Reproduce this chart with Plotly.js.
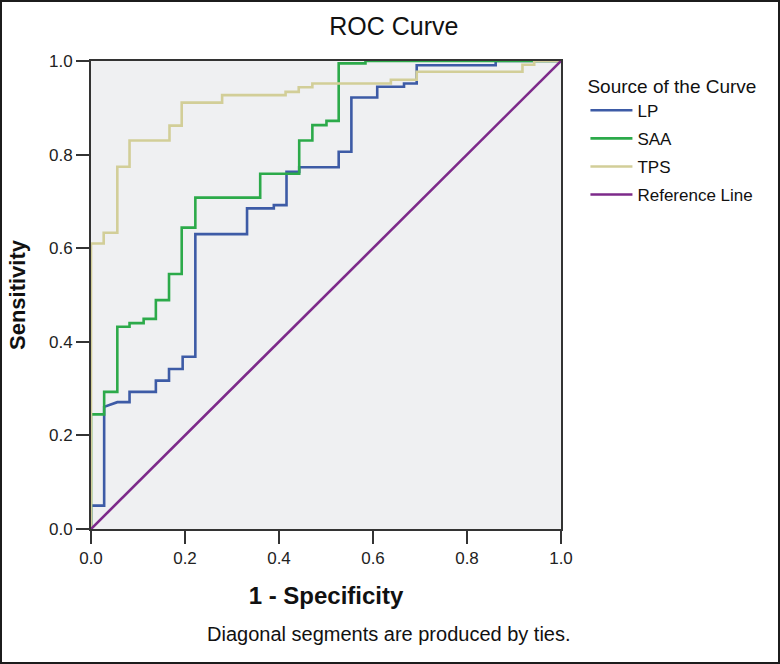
<!DOCTYPE html>
<html>
<head>
<meta charset="utf-8">
<script src="https://cdn.plot.ly/plotly-3.0.1.min.js"></script>
<style>
  html, body { margin: 0; padding: 0; background: #fff; }
  #wrap { position: relative; width: 780px; height: 664px; }
  #chart { position: absolute; left: 0; top: 0; width: 780px; height: 664px; }
  #frame { position: absolute; left: 0; top: 0; width: 780px; height: 664px;
           box-sizing: border-box; border: 2px solid #1c1c1c; pointer-events: none; }
</style>
</head>
<body>
<div id="wrap"><div id="chart"></div><div id="frame"></div></div>
<script>
// ROC coordinates (1 - specificity, sensitivity)
const lpX  = [0, 0, 0.028, 0.028, 0.056, 0.082, 0.082, 0.138, 0.138, 0.166, 0.166, 0.195, 0.195, 0.222, 0.222, 0.332, 0.332, 0.389, 0.389, 0.416, 0.416, 0.443, 0.443, 0.527, 0.527, 0.554, 0.554, 0.609, 0.609, 0.666, 0.666, 0.693, 0.693, 0.861, 0.861, 1];
const lpY  = [0, 0.05, 0.05, 0.261, 0.271, 0.271, 0.293, 0.293, 0.317, 0.317, 0.342, 0.342, 0.368, 0.368, 0.630, 0.630, 0.685, 0.685, 0.692, 0.692, 0.763, 0.763, 0.773, 0.773, 0.806, 0.806, 0.922, 0.922, 0.945, 0.945, 0.952, 0.952, 0.991, 0.991, 1, 1];

const saaX = [0, 0, 0.028, 0.028, 0.056, 0.056, 0.082, 0.082, 0.112, 0.112, 0.138, 0.138, 0.166, 0.166, 0.193, 0.193, 0.222, 0.222, 0.360, 0.360, 0.443, 0.443, 0.471, 0.471, 0.501, 0.501, 0.527, 0.527, 0.584, 0.584, 1];
const saaY = [0, 0.245, 0.245, 0.293, 0.293, 0.432, 0.432, 0.440, 0.440, 0.449, 0.449, 0.489, 0.489, 0.545, 0.545, 0.644, 0.644, 0.708, 0.708, 0.759, 0.759, 0.830, 0.830, 0.863, 0.863, 0.872, 0.872, 0.995, 0.995, 1, 1];

const tpsX = [0, 0, 0.027, 0.027, 0.056, 0.056, 0.082, 0.082, 0.167, 0.167, 0.193, 0.193, 0.279, 0.279, 0.414, 0.414, 0.442, 0.442, 0.471, 0.471, 0.638, 0.638, 0.693, 0.693, 0.918, 0.918, 0.943, 0.943, 1];
const tpsY = [0, 0.61, 0.61, 0.633, 0.633, 0.774, 0.774, 0.830, 0.830, 0.862, 0.862, 0.911, 0.911, 0.927, 0.927, 0.934, 0.934, 0.944, 0.944, 0.952, 0.952, 0.960, 0.960, 0.977, 0.977, 0.992, 0.992, 1, 1];

const refX = [0, 1];
const refY = [0, 1];

const seriesNames = ['LP', 'SAA', 'TPS', 'Reference Line'];
const tickVals = [0, 0.2, 0.4, 0.6, 0.8, 1.0];
const tickText = ['0.0', '0.2', '0.4', '0.6', '0.8', '1.0'];

const colors = ['#3d5ba6', '#2caa4a', '#d2ce98', '#7d2a8a'];
const FONT = 'Liberation Sans, Arial, Helvetica, sans-serif';

const xs = [lpX, saaX, tpsX, refX];
const ys = [lpY, saaY, tpsY, refY];

const traces = seriesNames.map((n, i) => ({
  type: 'scatter', mode: 'lines', name: n,
  x: xs[i], y: ys[i],
  legendgroup: 'g' + i,
  line: { color: colors[i], width: 2.6, shape: 'linear' },
  hoverinfo: 'skip'
}));

const axisCommon = {
  range: [0, 1], tickvals: tickVals, ticktext: tickText,
  showgrid: false, zeroline: false,
  showline: true, mirror: true, linecolor: '#333', linewidth: 2,
  ticks: 'outside', ticklen: 13, tickwidth: 2, tickcolor: '#333',
  tickfont: { family: FONT, size: 17, color: '#222' },
  fixedrange: true, layer: 'below traces'
};

const layout = {
  width: 780, height: 664,
  margin: { l: 91, r: 219, t: 61, b: 135, autoexpand: false },
  paper_bgcolor: '#ffffff', plot_bgcolor: '#eff0f2',
  showlegend: true,
  title: {
    text: 'ROC Curve', xref: 'container', x: 0.505, xanchor: 'center',
    yref: 'container', y: 0.961, yanchor: 'middle',
    font: { family: FONT, size: 25, color: '#111' }
  },
  xaxis: Object.assign({}, axisCommon, {
    title: { text: '<b>1 - Specificity</b>', standoff: 20,
             font: { family: FONT, size: 24, color: '#111' } }
  }),
  yaxis: Object.assign({}, axisCommon, {
    title: { text: '<b>Sensitivity</b>', standoff: 17,
             font: { family: FONT, size: 22, color: '#111' } }
  }),
  legend: {
    x: 1.052, xanchor: 'left', y: 0.985, yanchor: 'top',
    bgcolor: 'rgba(0,0,0,0)', borderwidth: 0,
    font: { family: FONT, size: 17, color: '#111' },
    title: { text: 'Source of the Curve', font: { family: FONT, size: 19, color: '#111' } },
    tracegroupgap: 3, itemwidth: 42, traceorder: 'grouped'
  },
  annotations: [{
    text: 'Diagonal segments are produced by ties.',
    xref: 'paper', yref: 'paper', x: 1.025, y: -0.224,
    xanchor: 'right', yanchor: 'middle', showarrow: false,
    font: { family: FONT, size: 20, color: '#111' }
  }]
};

Plotly.newPlot('chart', traces, layout, { staticPlot: true, displayModeBar: false });
</script>
</body>
</html>
